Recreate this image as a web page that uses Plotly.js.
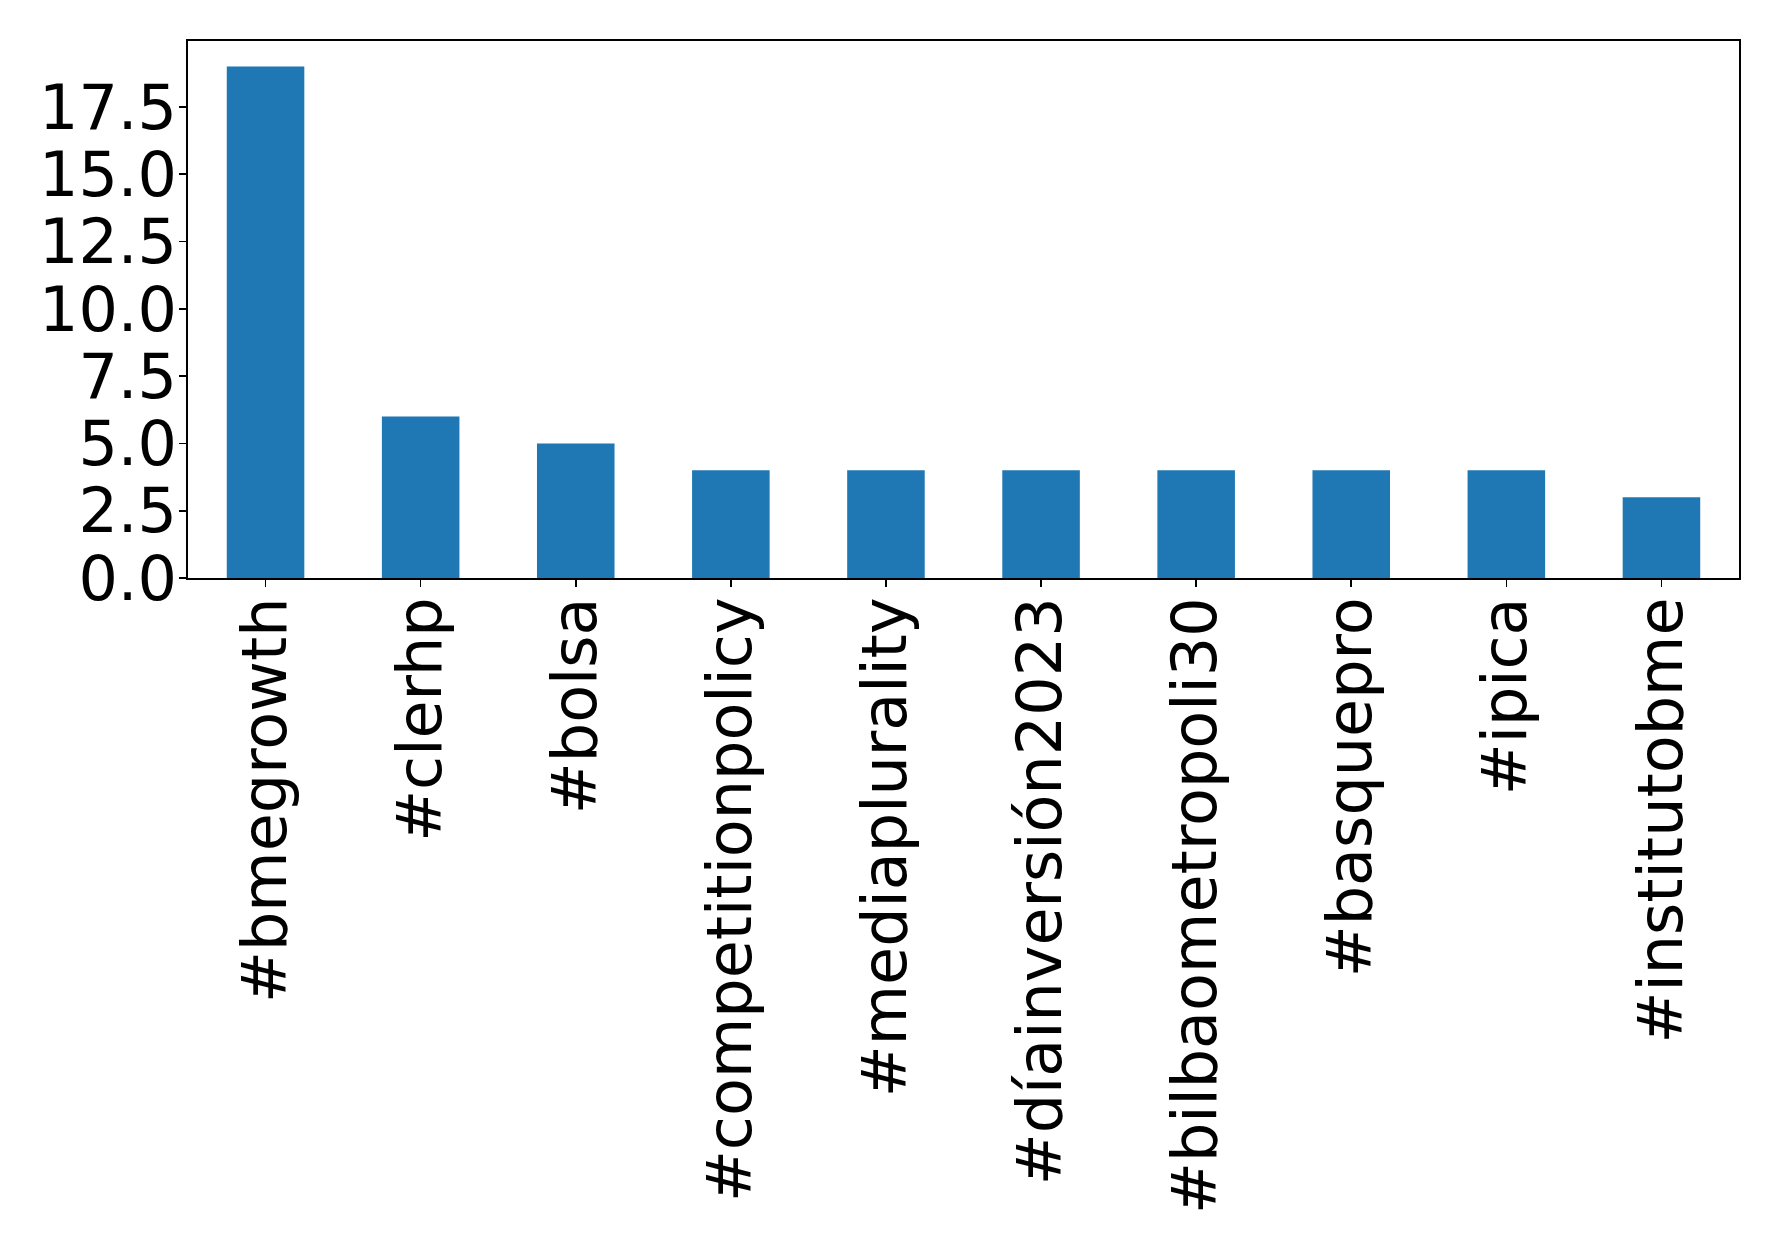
<!DOCTYPE html>
<html>
<head>
<meta charset="utf-8">
<script src="https://cdn.plot.ly/plotly-3.0.1.min.js"></script>
<style>html,body{margin:0;padding:0;background:#fff;}#chart{width:1778px;height:1250px;}</style>
</head>
<body>
<div id="chart"></div>
<script>
const categories = ["#bmegrowth", "#clerhp", "#bolsa", "#competitionpolicy", "#mediaplurality", "#díainversión2023", "#bilbaometropoli30", "#basquepro", "#ipica", "#institutobme"];
const counts = [19, 6, 5, 4, 4, 4, 4, 4, 4, 3];
const yTickValues = [0, 2.5, 5, 7.5, 10, 12.5, 15, 17.5];

const trace = {
  type: 'bar',
  x: categories.map((c, i) => i),
  y: counts,
  width: 0.5,
  marker: {color: '#1f77b4', line: {width: 0}},
  hoverinfo: 'x+y'
};

const layout = {
  width: 1778,
  height: 1250,
  margin: {l: 188, r: 39, t: 41, b: 672, pad: 0},
  paper_bgcolor: '#ffffff',
  plot_bgcolor: '#ffffff',
  showlegend: false,
  font: {family: 'DejaVu Sans', size: 62, color: '#000000'},
  xaxis: {
    range: [-0.5, 9.5],
    tickmode: 'array',
    tickvals: categories.map((c, i) => i),
    ticktext: categories,
    tickangle: -90,
    ticks: 'outside',
    ticklen: 7,
    tickwidth: 1.6,
    tickcolor: '#000',
    ticklabelstandoff: -14,
    showline: true,
    linecolor: '#000',
    linewidth: 1.6,
    mirror: true,
    showgrid: false,
    zeroline: false,
    tickfont: {family: 'DejaVu Sans', size: 62, color: '#000'}
  },
  yaxis: {
    range: [0, 19.95],
    tickmode: 'array',
    tickvals: yTickValues,
    ticktext: yTickValues.map(v => v.toFixed(1)),
    ticks: 'outside',
    ticklen: 7,
    tickwidth: 1.6,
    tickcolor: '#000',
    ticklabelstandoff: -10,
    showline: true,
    linecolor: '#000',
    linewidth: 1.6,
    mirror: true,
    showgrid: false,
    zeroline: false,
    tickfont: {family: 'DejaVu Sans', size: 62, color: '#000'}
  }
};

Plotly.newPlot('chart', [trace], layout, {staticPlot: true, displayModeBar: false});
</script>
</body>
</html>
